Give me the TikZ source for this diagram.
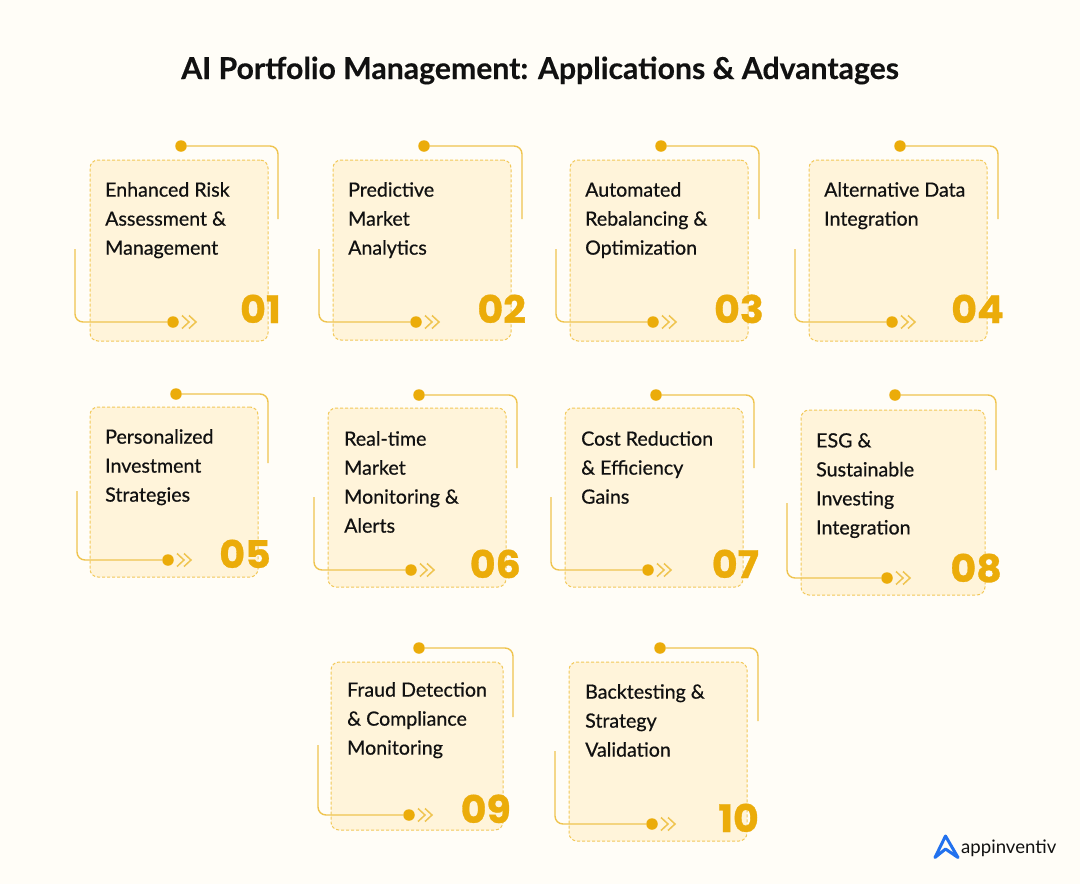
\documentclass[tikz,border=0pt]{standalone}
\usepackage{fontspec}
\setmainfont[BoldFeatures={FakeBold=.3}]{Lato}
\newfontfamily\bodyfont[FakeBold=.6]{Lato}
\newfontfamily\numfont[BoldFeatures={FakeStretch=1.04,FakeBold=.8}]{Poppins}
\definecolor{pagebg}{HTML}{FFFDF7}
\definecolor{cardbg}{HTML}{FFF4DA}
\definecolor{cardedge}{HTML}{F2C858}
\definecolor{linkcol}{HTML}{EFC44F}
\definecolor{gold}{HTML}{EBAC0A}
\definecolor{logoblue}{HTML}{2271EE}
\definecolor{ink}{HTML}{111111}
\tikzset{
  card/.style={draw=cardedge, fill=cardbg, rounded corners=8pt, line width=1pt, dash pattern=on 3pt off 2pt, anchor=north west, inner sep=0pt, outer sep=0pt},
  cardtext/.style={anchor=north west, inner sep=0pt, align=left, text=ink, font=\fontsize{19.6}{29}\bodyfont},
  cardnum/.style={anchor=base east, inner sep=0pt, text=gold, font=\fontsize{38}{38}\numfont\bfseries},
  linkdot/.style={circle, fill=gold, inner sep=0pt, minimum size=11.5pt},
  link/.style={draw=linkcol, line width=1.4pt, rounded corners=8pt},
  chevron/.style={draw=linkcol, line width=1.5pt},
}
\newcommand{\linkpair}[9]{
  \node[linkdot] (top#1) at (#2,#3) {};
  \coordinate (topend#1) at (#4,#5);
  \draw[link] (top#1) -| (topend#1);
  \node[linkdot] (low#1) at (#6,#7) {};
  \coordinate (lowend#1) at (#8,#9);
  \draw[link] (lowend#1) |- (low#1);
  \draw[chevron] ([shift={(9,-6.5)}]low#1.center) -- ++(7,6.5) -- ++(-7,6.5);
  \draw[chevron] ([shift={(16,-6.5)}]low#1.center) -- ++(7,6.5) -- ++(-7,6.5);
}
\begin{document}
\begin{tikzpicture}[x=1pt, y=-1pt]
\fill[pagebg] (0,0) rectangle (1080,884);
\useasboundingbox (0,0) rectangle (1080,884);
\node[anchor=base, inner sep=0pt, text=ink, font=\fontsize{30.2}{30}\bfseries] (title) at (540,79) {AI Portfolio Management: Applications \& Advantages};

\node[card, minimum width=178, minimum height=181] (card01) at (90,160) {};
\node[card, minimum width=178, minimum height=180] (card02) at (333,160) {};
\node[card, minimum width=178, minimum height=181] (card03) at (570,160) {};
\node[card, minimum width=178, minimum height=181] (card04) at (809,160) {};
\node[card, minimum width=168, minimum height=170] (card05) at (90,407) {};
\node[card, minimum width=178, minimum height=179] (card06) at (328,408) {};
\node[card, minimum width=178, minimum height=179] (card07) at (565,408) {};
\node[card, minimum width=184, minimum height=185] (card08) at (801,410) {};
\node[card, minimum width=172, minimum height=168] (card09) at (331,662) {};
\node[card, minimum width=178, minimum height=179] (card10) at (569,662) {};

\linkpair{01}{181}{146}{278}{219}{173}{322}{75}{249}
\linkpair{02}{424}{146}{522}{219}{416}{322}{319}{249}
\linkpair{03}{661}{146}{759}{219}{653}{322}{556}{249}
\linkpair{04}{900}{146}{998}{219}{892}{322}{795}{249}
\linkpair{05}{176}{394}{268}{463}{168}{560}{77}{491}
\linkpair{06}{419}{395}{517}{468}{411}{570}{314}{497}
\linkpair{07}{656}{395}{754}{468}{648}{570}{551}{497}
\linkpair{08}{895}{395}{996}{470}{887}{578}{787}{503}
\linkpair{09}{419}{648}{513}{717}{409}{815}{318}{745}
\linkpair{10}{660}{648}{758}{721}{652}{824}{555}{751}

\node[cardtext] (text01) at (105,182) {Enhanced Risk\\Assessment \&\\Management};
\node[cardtext] (text02) at (348,182) {Predictive\\Market\\Analytics};
\node[cardtext] (text03) at (585,182) {Automated\\Rebalancing \&\\Optimization};
\node[cardtext] (text04) at (824,182) {Alternative Data\\Integration};
\node[cardtext] (text05) at (105,429) {Personalized\\Investment\\Strategies};
\node[cardtext] (text06) at (344,431) {Real-time\\Market\\Monitoring \&\\Alerts};
\node[cardtext] (text07) at (581,431) {Cost Reduction\\\& Efficiency\\Gains};
\node[cardtext] (text08) at (816,433) {ESG \&\\Sustainable\\Investing\\Integration};
\node[cardtext] (text09) at (347,682) {Fraud Detection\\\& Compliance\\Monitoring};
\node[cardtext] (text10) at (585,684) {Backtesting \&\\Strategy\\Validation};

\node[cardnum] (num01) at (281,323) {01};
\node[cardnum] (num02) at (526,323) {02};
\node[cardnum] (num03) at (764,323) {03};
\node[cardnum] (num04) at (1004,323) {04};
\node[cardnum] (num05) at (271,568) {05};
\node[cardnum] (num06) at (521,578) {06};
\node[cardnum] (num07) at (759,578) {07};
\node[cardnum] (num08) at (1002,582) {08};
\node[cardnum] (num09) at (511,823) {09};
\node[cardnum] (num10) at (759,832) {10};

\draw[logoblue, line width=3pt, line join=round] (945.5,836) -- (935,857.5) -- (945.5,849) -- (958,857.5) -- cycle;
\node[anchor=base west, inner sep=0pt, text=ink, font=\fontsize{18.6}{19}\selectfont] (logo) at (961,853) {appinventiv};
\end{tikzpicture}
\end{document}
